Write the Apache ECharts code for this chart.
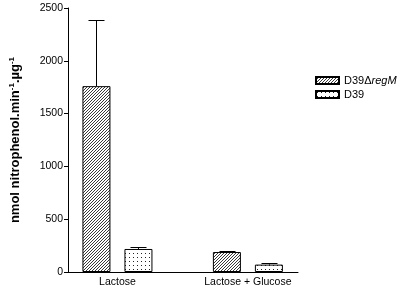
<!DOCTYPE html>
<html>
<head>
<meta charset="utf-8">
<script src="https://cdn.jsdelivr.net/npm/echarts@6/dist/echarts.min.js"></script>
<style>
    html, body { margin: 0; padding: 0; background: #fff; }
    #chart { width: 400px; height: 289px; }
</style>
</head>
<body>
<div id="chart"></div>
<script>
    // 数据
    var categories = ['Lactose', 'Lactose + Glucose'];
    var seriesNames = ['D39ΔregM', 'D39'];
    var regMValues = [1760, 189];
    var regMErr = [625, 10];
    var d39Values = [218, 70];
    var d39Err = [22, 18];
    var yTicks = [0, 500, 1000, 1500, 2000, 2500];

    // 斜线填充
    function hatchPattern () {
        var c = document.createElement('canvas');
        c.width = 3;
        c.height = 3;
        var ctx = c.getContext('2d');
        ctx.fillStyle = '#fff';
        ctx.fillRect(0, 0, 3, 3);
        ctx.strokeStyle = '#222';
        ctx.lineWidth = 0.9;
        ctx.beginPath();
        ctx.moveTo(-1, 4); ctx.lineTo(4, -1);
        ctx.moveTo(-1, 1); ctx.lineTo(1, -1);
        ctx.moveTo(2, 4); ctx.lineTo(4, 2);
        ctx.stroke();
        return c;
    }
    // 点状填充
    function dotPattern () {
        var c = document.createElement('canvas');
        c.width = 4;
        c.height = 4;
        var ctx = c.getContext('2d');
        ctx.fillStyle = '#fff';
        ctx.fillRect(0, 0, 4, 4);
        ctx.fillStyle = '#222';
        ctx.fillRect(1, 1, 1, 1);
        return c;
    }

    var barW = 28;
    var offsets = [-21, 21]; // 两组柱子相对分类中心的偏移(px)

    function barData (vals) {
        return vals.map(function (v, i) { return [i, v]; });
    }
    function errData (vals, errs) {
        return vals.map(function (v, i) { return [i, v, v + errs[i]]; });
    }
    function errSeries (vals, errs, k) {
        return {
            type: 'custom',
            silent: true,
            z: 3,
            data: errData(vals, errs),
            renderItem: function (params, api) {
                var low = api.coord([api.value(0), api.value(1)]);
                var high = api.coord([api.value(0), api.value(2)]);
                var x = Math.round(low[0] + offsets[k]) + 0.5;
                var yh = Math.round(high[1]) + 0.5;
                var style = { stroke: '#000', lineWidth: 1 };
                return {
                    type: 'group',
                    children: [
                        { type: 'line', shape: { x1: x, y1: low[1], x2: x, y2: yh }, style: style },
                        { type: 'line', shape: { x1: x - 8, y1: yh, x2: x + 8, y2: yh }, style: style }
                    ]
                };
            }
        };
    }

    var chart = echarts.init(document.getElementById('chart'));
    var option = {
        animation: false,
        textStyle: { fontFamily: 'Liberation Sans, Arial, sans-serif' },
        grid: { left: 67, right: 102, top: 8, bottom: 17 },
        legend: {
            orient: 'vertical',
            left: 310,
            top: 70,
            itemWidth: 23,
            itemHeight: 7,
            itemGap: 3,
            icon: 'rect',
            data: seriesNames,
            textStyle: {
                fontSize: 11,
                color: '#000',
                rich: { it: { fontSize: 11, fontStyle: 'italic', color: '#000' } }
            },
            formatter: function (name) {
                if (name === 'D39ΔregM') {
                    return 'D39Δ{it|regM}';
                }
                return name;
            }
        },
        xAxis: {
            type: 'value',
            min: -0.379,
            max: 1.384,
            splitLine: { show: false },
            axisLine: { show: true, onZero: false, lineStyle: { color: '#000', width: 1 } },
            axisTick: { show: false },
            axisLabel: {
                customValues: [0, 1],
                margin: 5,
                fontSize: 10.5,
                color: '#000',
                formatter: function (v) {
                    return categories[Math.round(v)];
                }
            }
        },
        yAxis: {
            type: 'value',
            min: 0,
            max: 2500,
            interval: 500,
            name: 'nmol nitrophenol.min{sup|-1}.µg{sup|-1}',
            nameLocation: 'middle',
            nameGap: 45,
            nameTextStyle: {
                fontSize: 13,
                fontWeight: 'bold',
                color: '#000',
                lineHeight: 15,
                rich: {
                    sup: { fontSize: 8, fontWeight: 'bold', color: '#000', verticalAlign: 'top', lineHeight: 15 }
                }
            },
            splitLine: { show: false },
            axisLine: { show: true, onZero: false, lineStyle: { color: '#000', width: 1 } },
            axisTick: { show: true, length: 4, lineStyle: { color: '#000' } },
            axisLabel: {
                fontSize: 10.5,
                color: '#000',
                margin: 5,
                formatter: function (v) {
                    return yTicks.indexOf(v) >= 0 ? String(v) : '';
                }
            }
        },
        series: [
            {
                name: seriesNames[0],
                type: 'bar',
                barWidth: barW,
                barGap: '50%',
                z: 2,
                itemStyle: {
                    color: { image: hatchPattern(), repeat: 'repeat' },
                    borderColor: '#000',
                    borderWidth: 1
                },
                data: barData(regMValues)
            },
            {
                name: seriesNames[1],
                type: 'bar',
                barWidth: barW,
                barGap: '50%',
                z: 2,
                itemStyle: {
                    color: { image: dotPattern(), repeat: 'repeat' },
                    borderColor: '#000',
                    borderWidth: 1
                },
                data: barData(d39Values)
            },
            errSeries(regMValues, regMErr, 0),
            errSeries(d39Values, d39Err, 1)
        ]
    };
    chart.setOption(option);
</script>
</body>
</html>
